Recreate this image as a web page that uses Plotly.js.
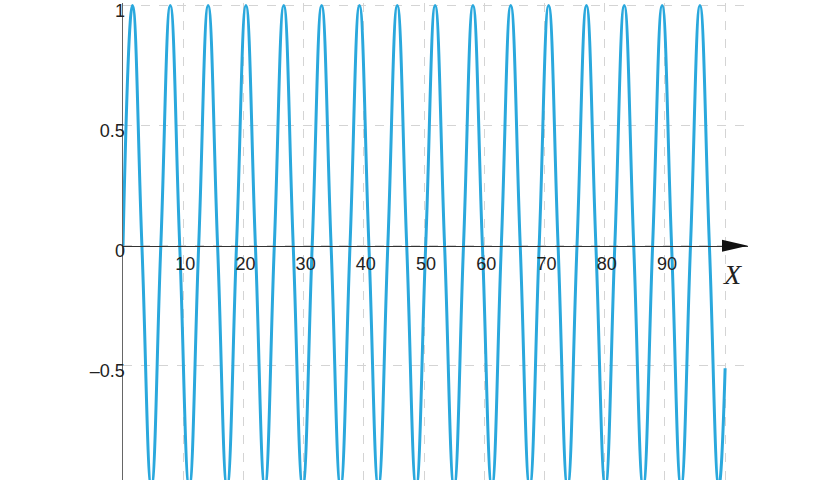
<!DOCTYPE html>
<html>
<head>
<meta charset="utf-8">
<script src="https://cdn.plot.ly/plotly-3.0.1.min.js"></script>
<style>
  html, body { margin: 0; padding: 0; background: #fff; }
  #plot { width: 840px; height: 480px; }
</style>
</head>
<body>
<div id="plot"></div>
<script>
// ----- data: extrema and zero crossings of the wave -----
const waveX = [
  0, 1.57, 3.14, 4.71, 6.28, 7.85, 9.42, 11.00,
  12.57, 14.14, 15.71, 17.28, 18.85, 20.42, 21.99, 23.56,
  25.13, 26.70, 28.27, 29.85, 31.42, 32.99, 34.56, 36.13,
  37.70, 39.27, 40.84, 42.41, 43.98, 45.55, 47.12, 48.69,
  50.27, 51.84, 53.41, 54.98, 56.55, 58.12, 59.69, 61.26,
  62.83, 64.40, 65.97, 67.54, 69.12, 70.69, 72.26, 73.83,
  75.40, 76.97, 78.54, 80.11, 81.68, 83.25, 84.82, 86.39,
  87.96, 89.54, 91.11, 92.68, 94.25, 95.82, 97.39, 98.96,
  100
];
const waveY = [
  0, 1, 0, -1, 0, 1, 0, -1,
  0, 1, 0, -1, 0, 1, 0, -1,
  0, 1, 0, -1, 0, 1, 0, -1,
  0, 1, 0, -1, 0, 1, 0, -1,
  0, 1, 0, -1, 0, 1, 0, -1,
  0, 1, 0, -1, 0, 1, 0, -1,
  0, 1, 0, -1, 0, 1, 0, -1,
  0, 1, 0, -1, 0, 1, 0, -1,
  -0.51
];

// ----- ticks -----
const xTickVals  = [10, 20, 30, 40, 50, 60, 70, 80, 90, 100];
const xTickText  = ["10", "20", "30", "40", "50", "60", "70", "80", "90", ""];
const yTickVals  = [1, 0.5, 0, -0.5];
const yTickText  = ["1", "0.5", "0", "\u20130.5"];

const X_RANGE = [0, 103.8];
const Y_RANGE = [-0.975, 1.01];

const trace = {
  type: "scatter",
  mode: "lines",
  x: waveX,
  y: waveY,
  line: { color: "#2aa8dd", width: 3, shape: "spline", smoothing: 1.3 },
  hoverinfo: "skip",
  showlegend: false
};

const layout = {
  width: 840,
  height: 480,
  margin: { l: 123, r: 92, t: 3, b: 0 },
  paper_bgcolor: "#ffffff",
  plot_bgcolor: "#ffffff",
  font: { family: "Liberation Sans, Arial, sans-serif", size: 18, color: "#222" },
  xaxis: {
    range: X_RANGE,
    anchor: "free",
    // x axis sits on y = 0
    position: (0 - Y_RANGE[0]) / (Y_RANGE[1] - Y_RANGE[0]),
    tickmode: "array",
    tickvals: xTickVals,
    ticktext: xTickText,
    ticks: "",
    ticklabelstandoff: 1,
    ticklabelshift: 2,
    showline: true,
    linecolor: "#333",
    linewidth: 1.5,
    showgrid: true,
    gridcolor: "#d4d4d4",
    griddash: "dash",
    gridwidth: 1,
    zeroline: false,
    fixedrange: true
  },
  yaxis: {
    range: Y_RANGE,
    tickmode: "array",
    tickvals: yTickVals,
    ticktext: yTickText,
    ticks: "",
    ticklabelstandoff: -7,
    ticklabelshift: 5,
    ticklabeloverflow: "allow",
    showline: true,
    linecolor: "#666",
    linewidth: 1.5,
    showgrid: true,
    gridcolor: "#d4d4d4",
    griddash: "dash",
    gridwidth: 1,
    zeroline: false,
    fixedrange: true
  },
  shapes: [
    // arrow head at the end of the x axis
    {
      type: "path",
      xref: "x", yref: "y",
      xsizemode: "pixel", ysizemode: "pixel",
      xanchor: X_RANGE[1], yanchor: 0,
      path: "M-26,-6 L0,0 L-26,6 Z",
      fillcolor: "#111",
      line: { width: 0 }
    }
  ],
  annotations: [
    {
      x: 101.3, y: -0.12, xref: "x", yref: "y",
      text: "X",
      showarrow: false,
      font: { family: "Liberation Serif, Times New Roman, serif", size: 28, color: "#222", style: "italic" }
    }
  ]
};

Plotly.newPlot("plot", [trace], layout, { displayModeBar: false, staticPlot: true });
</script>
</body>
</html>
